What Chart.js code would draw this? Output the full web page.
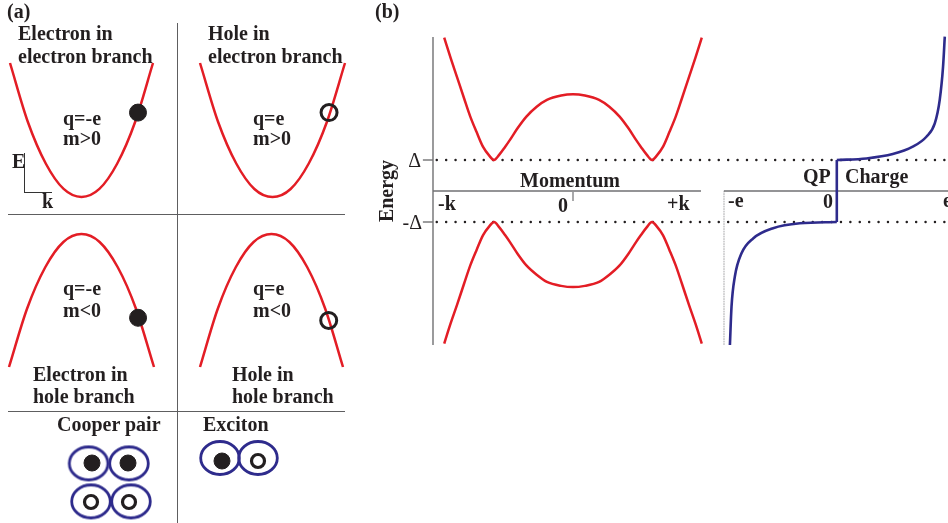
<!DOCTYPE html>
<html>
<head>
<meta charset="utf-8">
<script src="https://cdn.jsdelivr.net/npm/chart.js@4.4.1/dist/chart.umd.min.js"></script>
<style>
  body { margin: 0; background: #fff; }
  #fig { position: relative; width: 948px; height: 523px; overflow: hidden; background: #fff; }
  #fig canvas { position: absolute; left: 0; top: 0; }
  .t { position: absolute; font: bold 20px "Liberation Serif", serif; line-height: 20px; color: #231f20; white-space: nowrap; }
  .rule { position: absolute; background: #5e5e60; }
</style>
</head>
<body>
<div id="fig"></div>
<script>
// (a) parabolic bands, k in units of the branch half-width
const kBand = [-1, -0.75, -0.5, -0.25, 0, 0.25, 0.5, 0.75, 1];
const eElectronBranch = [1, 0.56, 0.25, 0.06, 0, 0.06, 0.25, 0.56, 1];
const eHoleBranch = [-1, -0.56, -0.25, -0.06, 0, -0.06, -0.25, -0.56, -1];

// particle sitting on each branch: [k, E]
const electronInElectron = [0.79, 0.63];
const holeInElectron = [0.78, 0.63];
const electronInHole = [0.78, -0.63];
const holeInHole = [0.8, -0.65];

// cooper pair / exciton sketch
const cooperShellX = [0.99, 2.0, 1.05, 2.05];
const cooperShellY = [1.49, 1.49, 0.54, 0.54];
const cooperElectronX = [1.075, 1.975];
const cooperElectronY = [1.5, 1.5];
const cooperHoleX = [1.05, 2.0];
const cooperHoleY = [0.525, 0.525];
const excitonShellX = [4.275, 5.225];
const excitonShellY = [1.625, 1.625];
const excitonElectronX = [4.325];
const excitonElectronY = [1.55];
const excitonHoleX = [5.225];
const excitonHoleY = [1.55];

// (b) BdG dispersion, energy in units of Delta
const momentum = [-1.63, -1.55, -1.47, -1.38, -1.30, -1.22, -1.14, -1.06, -1.0, -0.93, -0.86, -0.80,
                  -0.70, -0.59, -0.46, -0.33, -0.15, 0,
                  0.15, 0.33, 0.46, 0.59, 0.70, 0.80, 0.86, 0.93, 1.0, 1.06, 1.14, 1.22,
                  1.30, 1.38, 1.47, 1.55, 1.63];
const energyUpper = [4.95, 4.30, 3.69, 3.00, 2.40, 1.90, 1.43, 1.14, 1.0, 1.18, 1.42, 1.64,
                     2.03, 2.40, 2.72, 2.94, 3.08, 3.12,
                     3.08, 2.94, 2.72, 2.40, 2.03, 1.64, 1.42, 1.18, 1.0, 1.14, 1.43, 1.90,
                     2.40, 3.00, 3.69, 4.30, 4.95];
const energyLower = [-4.92, -4.28, -3.69, -3.00, -2.40, -1.90, -1.43, -1.14, -1.0, -1.18, -1.42, -1.64,
                     -2.03, -2.40, -2.70, -2.93, -3.06, -3.10,
                     -3.06, -2.93, -2.70, -2.40, -2.03, -1.64, -1.42, -1.18, -1.0, -1.14, -1.43, -1.90,
                     -2.40, -3.00, -3.69, -4.28, -4.92];

// quasiparticle charge (units of e) vs energy
const chargeLower = [-0.995, -0.98, -0.949, -0.887, -0.779, -0.593, -0.344, 0];
const energyChargeLower = [-4.97, -3.73, -2.76, -2.01, -1.53, -1.20, -1.04, -1.0];
const chargeUpper = [0, 0.276, 0.521, 0.707, 0.834, 0.912, 0.958, 0.989, 1.005];
const energyChargeUpper = [1.0, 1.05, 1.19, 1.43, 1.75, 2.18, 2.94, 4.01, 4.98];

const energyTicks = ['Δ', '-Δ'];
const momentumTicks = ['-k', '0', '+k'];
const chargeTicks = ['-e', '0', 'e'];

const W = 948, H = 523;
const red = '#e31d25', navy = '#2e2b8c', ink = '#231f20', gray = '#717173';
const fig = document.getElementById('fig');

const pts = (xs, ys) => xs.map((x, i) => ({ x: x, y: ys[i] }));

function curve(xs, ys, color, width) {
    return { data: pts(xs, ys), showLine: true, borderColor: color, borderWidth: width,
             pointRadius: 0, clip: false, cubicInterpolationMode: 'monotone', fill: false };
}
function segment(xs, ys, color, width, dash) {
    return { data: pts(xs, ys), showLine: true, borderColor: color, borderWidth: width,
             pointRadius: 0, clip: false, tension: 0, borderDash: dash || [],
             borderCapStyle: dash ? 'round' : 'butt', fill: false };
}
function dots(xs, ys, filled, r, bw) {
    return { data: pts(xs, ys), showLine: false, pointRadius: r, pointBorderWidth: bw,
             pointBackgroundColor: filled ? ink : 'rgba(0,0,0,0)', pointBorderColor: ink, clip: false };
}

function ellipseImage(rx, ry, lw, color) {
    const c = document.createElement('canvas');
    c.width = Math.ceil(2 * rx + lw + 4);
    c.height = Math.ceil(2 * ry + lw + 4);
    const g = c.getContext('2d');
    g.strokeStyle = color;
    g.lineWidth = lw;
    g.beginPath();
    g.ellipse(c.width / 2, c.height / 2, rx, ry, 0, 0, Math.PI * 2);
    g.stroke();
    return c;
}

function makeChart(area, xr, yr, datasets) {
    const c = document.createElement('canvas');
    c.width = W; c.height = H;
    fig.appendChild(c);
    return new Chart(c, {
        type: 'scatter',
        data: { datasets: datasets },
        options: {
            responsive: false, animation: false, events: [], devicePixelRatio: 1,
            layout: { autoPadding: false,
                      padding: { left: area[0], top: area[1], right: W - area[2], bottom: H - area[3] } },
            plugins: { legend: { display: false }, tooltip: { enabled: false } },
            scales: {
                x: { type: 'linear', display: false, min: xr[0], max: xr[1] },
                y: { type: 'linear', display: false, min: yr[0], max: yr[1] }
            }
        }
    });
}

// panel (a) branches
makeChart([10, 63, 153, 197], [-1, 1], [0, 1], [
    dots([electronInElectron[0]], [electronInElectron[1]], true, 8.5, 1),
    curve(kBand, eElectronBranch, red, 2.5)
]);
makeChart([200, 63, 345, 197], [-1, 1], [0, 1], [
    dots([holeInElectron[0]], [holeInElectron[1]], false, 8, 3),
    curve(kBand, eElectronBranch, red, 2.5)
]);
makeChart([9, 234, 154, 367], [-1, 1], [-1, 0], [
    dots([electronInHole[0]], [electronInHole[1]], true, 8.5, 1),
    curve(kBand, eHoleBranch, red, 2.5)
]);
makeChart([200, 234, 343, 367], [-1, 1], [-1, 0], [
    dots([holeInHole[0]], [holeInHole[1]], false, 8, 3),
    curve(kBand, eHoleBranch, red, 2.5)
]);

// cooper pair and exciton
const shell = ellipseImage(19.3, 16.5, 2.8, navy);
makeChart([49, 423, 289, 523], [0, 6], [0, 2.5], [
    dots(cooperElectronX, cooperElectronY, true, 8, 1),
    dots(cooperHoleX, cooperHoleY, false, 6.5, 3.2),
    dots(excitonElectronX, excitonElectronY, true, 8, 1),
    dots(excitonHoleX, excitonHoleY, false, 6.5, 3.2),
    { data: pts(cooperShellX.concat(excitonShellX), cooperShellY.concat(excitonShellY)),
      showLine: false, pointStyle: shell, pointRadius: 2, clip: false }
]);

// panel (b) dispersion
makeChart([433, 36, 713, 346], [-1.772, 1.772], [-5, 5], [
    curve(momentum, energyUpper, red, 2.5),
    curve(momentum, energyLower, red, 2.5),
    segment([-1.725, 4.75], [1, 1], ink, 2.4, [0.1, 9.3]),
    segment([-1.725, 4.75], [-1, -1], ink, 2.4, [0.1, 9.3]),
    segment([-1.772, -1.772], [4.97, -4.97], gray, 1.4),
    segment([-1.772, 1.62], [0, 0], gray, 1.4),
    segment([-1.9, -1.772], [1, 1], gray, 1.4),
    segment([-1.9, -1.772], [-1, -1], gray, 1.4),
    segment([0, 0], [-0.03, -0.32], gray, 1.2)
]);

// panel (b) quasiparticle charge
makeChart([724, 36, 948, 346], [-1.05, 1.035], [-5, 5], [
    curve(chargeLower, energyChargeLower, navy, 2.6),
    segment([0, 0], [-1, 1], navy, 2.6),
    curve(chargeUpper, energyChargeUpper, navy, 2.6),
    segment([-1.05, 1.035], [0, 0], gray, 1.4),
    segment([-1.05, -1.05], [0, -4.97], '#b5b5b7', 1.2, [1, 1.5])
]);

// divider rules and the little E-k axes
[[176.5, 23, 1.3, 500], [8, 213.5, 337, 1.3], [8, 410.5, 337, 1.3]].forEach(function (r) {
    const d = document.createElement('div');
    d.className = 'rule';
    d.style.cssText = 'left:' + r[0] + 'px;top:' + r[1] + 'px;width:' + r[2] + 'px;height:' + r[3] + 'px';
    fig.appendChild(d);
});
[[23.5, 153, 1.2, 39.5], [23.5, 191.5, 28.5, 1.2]].forEach(function (r) {
    const d = document.createElement('div');
    d.className = 'rule';
    d.style.cssText = 'background:#333;left:' + r[0] + 'px;top:' + r[1] + 'px;width:' + r[2] + 'px;height:' + r[3] + 'px';
    fig.appendChild(d);
});

function label(text, x, y, align, weight) {
    const d = document.createElement('div');
    d.className = 't';
    d.textContent = text;
    d.style.left = x + 'px';
    d.style.top = y + 'px';
    const tx = align === 'c' ? '-50%' : align === 'r' ? '-100%' : '0';
    d.style.transform = 'translate(' + tx + ',-50%)';
    if (weight) d.style.fontWeight = weight;
    fig.appendChild(d);
    return d;
}

label('(a)', 7, 11, 'l');
label('(b)', 375, 11, 'l');
label('Electron in', 18, 33, 'l');
label('electron branch', 18, 56, 'l');
label('q=-e', 63, 118, 'l');
label('m>0', 63, 138, 'l');
label('E', 12, 161, 'l');
label('k', 42, 201, 'l');
label('Hole in', 208, 33, 'l');
label('electron branch', 208, 56, 'l');
label('q=e', 253, 118, 'l');
label('m>0', 253, 138, 'l');
label('q=-e', 63, 288, 'l');
label('m<0', 63, 310, 'l');
label('q=e', 253, 288, 'l');
label('m<0', 253, 310, 'l');
label('Electron in', 33, 374, 'l');
label('hole branch', 33, 396, 'l');
label('Hole in', 232, 374, 'l');
label('hole branch', 232, 396, 'l');
label('Cooper pair', 57, 424, 'l');
label('Exciton', 203, 424, 'l');

const en = label('Energy', 386, 191, 'c');
en.style.transform = 'translate(-50%,-50%) rotate(-90deg)';
label(energyTicks[0], 421, 160, 'r', 400);
label(energyTicks[1], 422, 222, 'r', 400);
label('Momentum', 570, 180, 'c');
label(momentumTicks[0], 438, 203, 'l');
label(momentumTicks[1], 558, 205, 'l');
label(momentumTicks[2], 667, 203, 'l');
label('QP', 803, 176, 'l');
label('Charge', 845, 176, 'l');
label(chargeTicks[0], 728, 200, 'l');
label(chargeTicks[1], 833, 201, 'r');
label(chargeTicks[2], 943, 200, 'l');
</script>
</body>
</html>
